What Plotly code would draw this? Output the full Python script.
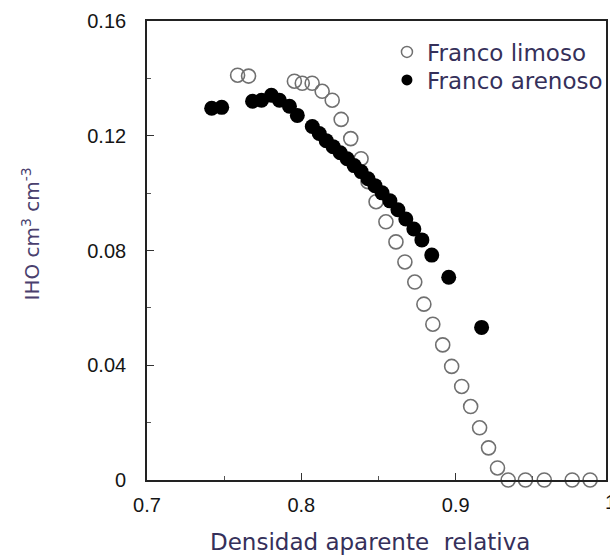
import plotly.graph_objects as go

# Franco limoso (open circles)
limoso_x = [0.7587, 0.7658, 0.7955, 0.8006, 0.8070, 0.8135, 0.8200, 0.8258, 0.8320,
            0.8387, 0.8432, 0.8484, 0.8548, 0.8613, 0.8671, 0.8735, 0.8794, 0.8852,
            0.8916, 0.8974, 0.9039, 0.9097, 0.9155, 0.9213, 0.9271, 0.9340, 0.9452,
            0.9574, 0.9755, 0.9871]
limoso_y = [0.1411, 0.1408, 0.1390, 0.1383, 0.1383, 0.1355, 0.1324, 0.1257, 0.1190,
            0.1120, 0.1040, 0.0970, 0.0900, 0.0830, 0.0760, 0.0690, 0.0613, 0.0543,
            0.0471, 0.0396, 0.0326, 0.0256, 0.0182, 0.0112, 0.0042, 0.0, 0.0,
            0.0, 0.0, 0.0]

# Franco arenoso (filled circles)
arenoso_x = [0.7419, 0.7484, 0.7684, 0.7742, 0.7806, 0.7858, 0.7923, 0.7974,
             0.8071, 0.8116, 0.8161, 0.8206, 0.8252, 0.8297, 0.8342, 0.8387,
             0.8432, 0.8477, 0.8523, 0.8574, 0.8626, 0.8677, 0.8729, 0.8781,
             0.8845, 0.8955, 0.9168]
arenoso_y = [0.1296, 0.1299, 0.1320, 0.1324, 0.1341, 0.1324, 0.1303, 0.1271,
             0.1232, 0.1208, 0.1183, 0.1162, 0.1141, 0.1120, 0.1096, 0.1075,
             0.1050, 0.1026, 0.1001, 0.0973, 0.0942, 0.0910, 0.0875, 0.0837,
             0.0784, 0.0707, 0.0532]

x_ticks = [0.7, 0.8, 0.9]
x_tick_text = ["0.7", "0.8", "0.9"]
y_ticks = [0, 0.04, 0.08, 0.12, 0.16]
y_tick_text = ["0", "0.04", "0.08", "0.12", "0.16"]

X_RANGE = [0.7, 0.9974]
Y_RANGE = [0, 0.16]

TEXT_COLOR = "#35305a"
LABEL_FAMILY = "DejaVu Sans, Verdana, sans-serif"
TICK_FONT = dict(family="Liberation Sans, Arial, sans-serif", size=20, color="#151515")

fig = go.Figure()

fig.add_trace(go.Scatter(
    x=limoso_x, y=limoso_y, mode="markers", name="Franco limoso",
    marker=dict(symbol="circle-open", size=14, color="#707070", line=dict(width=1.6)),
    cliponaxis=False, showlegend=False,
))
fig.add_trace(go.Scatter(
    x=arenoso_x, y=arenoso_y, mode="markers", name="Franco arenoso",
    marker=dict(symbol="circle", size=15, color="#000000"),
    cliponaxis=False, showlegend=False,
))

# legend entries with smaller symbols, one legend box per row
fig.add_trace(go.Scatter(
    x=[None], y=[None], mode="markers", name="Franco limoso", legend="legend",
    marker=dict(symbol="circle-open", size=11, color="#707070", line=dict(width=1.5)),
))
fig.add_trace(go.Scatter(
    x=[None], y=[None], mode="markers", name="Franco arenoso", legend="legend2",
    marker=dict(symbol="circle", size=11, color="#000000"),
))

axis_common = dict(
    showgrid=False, zeroline=False, showline=True, linecolor="#222222", linewidth=1.6,
    mirror=True, ticks="inside", ticklen=7, tickwidth=1.2, tickcolor="#333333",
    tickfont=TICK_FONT,
)

fig.update_xaxes(
    range=X_RANGE, tickvals=x_ticks, ticktext=x_tick_text,
    minor=dict(dtick=0.05, tick0=0.7, ticks="inside", ticklen=4, tickcolor="#555555"),
    ticklabelstandoff=6, **axis_common,
)
fig.update_yaxes(
    range=Y_RANGE, tickvals=y_ticks, ticktext=y_tick_text,
    minor=dict(dtick=0.02, tick0=0, ticks="inside", ticklen=4, tickcolor="#555555"),
    ticklabelstandoff=15, **axis_common,
)

# tick label at 1.0, right at the edge of the frame
fig.add_annotation(
    x=(1.0 - X_RANGE[0]) / (X_RANGE[1] - X_RANGE[0]), y=0, xref="paper", yref="paper",
    text="1", showarrow=False, xanchor="center", yanchor="top", yshift=-9,
    font=TICK_FONT,
)

# axis titles
fig.add_annotation(
    x=(371 - 147) / 461, y=(480 - 556) / 459, xref="paper", yref="paper",
    text="Densidad aparente  relativa", showarrow=False,
    xanchor="center", yanchor="bottom", borderpad=0,
    font=dict(family=LABEL_FAMILY, size=23, color=TEXT_COLOR),
)
fig.add_annotation(
    x=(30 - 147) / 461, y=(480 - 234) / 459, xref="paper", yref="paper",
    text="IHO cm<sup>3</sup> cm<sup>-3</sup>", showarrow=False, textangle=-90,
    xanchor="center", yanchor="middle",
    font=dict(family=LABEL_FAMILY, size=20, color="#4a3f6e"),
)

legend_style = dict(
    xanchor="left", yanchor="middle", bgcolor="rgba(0,0,0,0)", borderwidth=0,
    itemwidth=30, font=dict(family=LABEL_FAMILY, size=23, color=TEXT_COLOR),
)

fig.update_layout(
    width=610, height=556,
    margin=dict(l=147, r=2, t=21, b=76, pad=0),
    paper_bgcolor="white", plot_bgcolor="white",
    legend=dict(x=(388 - 147) / 461, y=(480 - 52) / 459, **legend_style),
    legend2=dict(x=(388 - 147) / 461, y=(480 - 80) / 459, **legend_style),
)

fig.write_html("out.html")
